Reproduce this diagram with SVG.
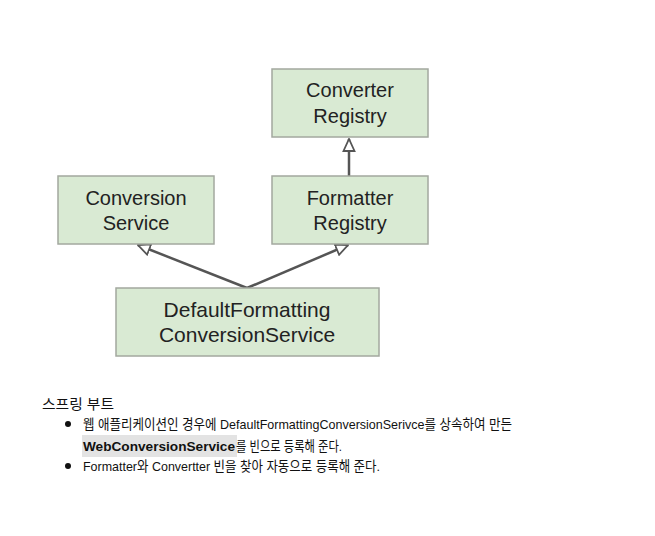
<svg xmlns="http://www.w3.org/2000/svg" width="655" height="536" viewBox="0 0 655 536">
<style>
.box{fill:#d9ead3;stroke:#a3a89f;stroke-width:1.5}
.lbl{font-family:"Liberation Sans",Arial,sans-serif;font-size:20px;fill:#222;text-anchor:middle}
.big{font-size:21px}
.edge{stroke:#555;stroke-width:2.5;fill:none}
.t{font-family:"Liberation Sans","Noto Sans CJK KR",sans-serif;font-size:13.5px;fill:#111}
</style>
<defs>
<marker id="tri" viewBox="0 0 14 14" refX="13" refY="7" markerWidth="14" markerHeight="14" markerUnits="userSpaceOnUse" orient="auto">
<path d="M1,1.5 L13,7 L1,12.5 Z" fill="#fff" stroke="#555" stroke-width="1.8"/>
</marker>
</defs>
<rect width="655" height="536" fill="#fff"/>
<g id="connectors">
<line class="edge" x1="349" y1="176" x2="349" y2="139" marker-end="url(#tri)"/>
<line class="edge" x1="247" y1="288" x2="138" y2="245" marker-end="url(#tri)"/>
<line class="edge" x1="247" y1="288" x2="348" y2="245" marker-end="url(#tri)"/>
</g>
<g id="converterRegistry">
<rect class="box" x="272" y="69" width="156" height="68"/>
<text class="lbl" x="350" y="97">Converter</text>
<text class="lbl" x="350" y="123">Registry</text>
</g>
<g id="conversionService">
<rect class="box" x="58" y="176" width="156" height="68"/>
<text class="lbl" x="136" y="205">Conversion</text>
<text class="lbl" x="136" y="230">Service</text>
</g>
<g id="formatterRegistry">
<rect class="box" x="272" y="176" width="156" height="68"/>
<text class="lbl" x="350" y="205">Formatter</text>
<text class="lbl" x="350" y="230">Registry</text>
</g>
<g id="defaultFormattingConversionService">
<rect class="box" x="116" y="288" width="263" height="68"/>
<text class="lbl big" x="247" y="317">DefaultFormatting</text>
<text class="lbl big" x="247" y="342">ConversionService</text>
</g>
<g id="notes">
<text class="t" x="42" y="409" textLength="72" lengthAdjust="spacingAndGlyphs">스프링 부트</text>
<circle cx="68" cy="424" r="3" fill="#111"/>
<text class="t" x="83" y="429" textLength="429" lengthAdjust="spacingAndGlyphs">웹 애플리케이션인 경우에 DefaultFormattingConversionSerivce를 상속하여 만든</text>
<rect x="82" y="435" width="155" height="22" fill="#e3e3e3"/>
<text class="t" x="83" y="451" font-weight="bold" textLength="152" lengthAdjust="spacingAndGlyphs">WebConversionService</text>
<text class="t" x="236" y="451" textLength="106" lengthAdjust="spacingAndGlyphs">를 빈으로 등록해 준다.</text>
<circle cx="68" cy="466" r="3" fill="#111"/>
<text class="t" x="83" y="471" textLength="297" lengthAdjust="spacingAndGlyphs">Formatter와 Convertter 빈을 찾아 자동으로 등록해 준다.</text>
</g>
</svg>
